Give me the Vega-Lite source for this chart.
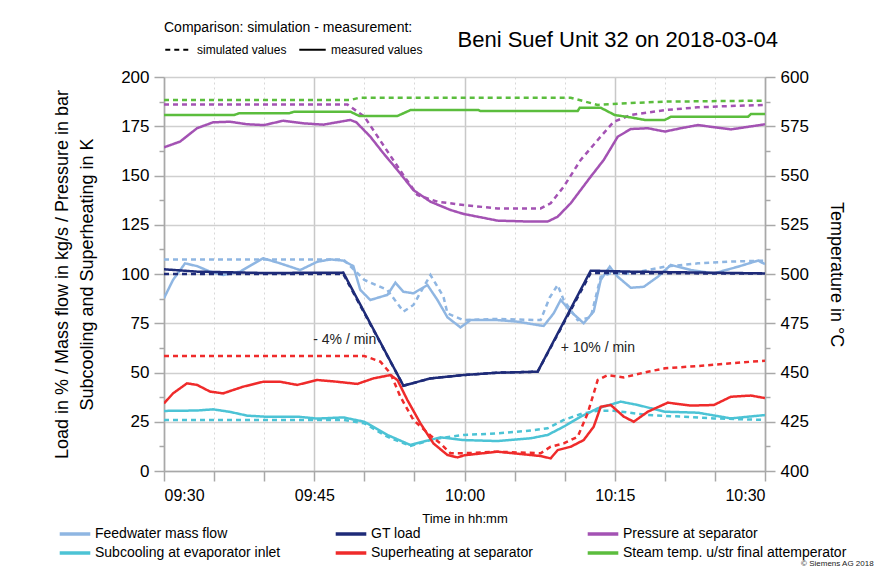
{
  "$schema": "https://vega.github.io/schema/vega-lite/v6.json",
  "width": 601,
  "height": 394,
  "autosize": {"type": "none"},
  "padding": {"left": 164, "top": 77, "right": 113, "bottom": 96},
  "background": "white",
  "config": {
    "font": "Liberation Sans",
    "view": {"stroke": null},
    "axis": {"labelColor": "black", "titleColor": "black", "titleFontWeight": "normal", "domainColor": "#a8a8a8", "tickColor": "#a8a8a8", "domainWidth": 1.5, "tickWidth": 1.5},
    "legend": {"labelColor": "black", "titleColor": "black", "titleFontWeight": "normal"}
  },
  "title": {"text": "Beni Suef Unit 32 on 2018-03-04", "anchor": "end", "frame": "group", "fontSize": 22, "fontWeight": "normal", "color": "black", "dx": 13, "offset": 0, "dy": 31},
  "datasets": {
    "main": [
      {"s":"Feedwater mass flow","k":"simulated values","t":0,"v":107.4},{"s":"Feedwater mass flow","k":"simulated values","t":17.9,"v":107.4},{"s":"Feedwater mass flow","k":"simulated values","t":20,"v":97},{"s":"Feedwater mass flow","k":"simulated values","t":22.3,"v":91.9},{"s":"Feedwater mass flow","k":"simulated values","t":23.9,"v":80.9},{"s":"Feedwater mass flow","k":"simulated values","t":24.9,"v":84.3},{"s":"Feedwater mass flow","k":"simulated values","t":26.6,"v":99.5},{"s":"Feedwater mass flow","k":"simulated values","t":27.9,"v":88.5},{"s":"Feedwater mass flow","k":"simulated values","t":28.3,"v":80},{"s":"Feedwater mass flow","k":"simulated values","t":29.9,"v":76.6},{"s":"Feedwater mass flow","k":"simulated values","t":33.3,"v":77.2},{"s":"Feedwater mass flow","k":"simulated values","t":37.6,"v":76.6},{"s":"Feedwater mass flow","k":"simulated values","t":38.5,"v":88},{"s":"Feedwater mass flow","k":"simulated values","t":39.3,"v":94.4},{"s":"Feedwater mass flow","k":"simulated values","t":39.9,"v":86.8},{"s":"Feedwater mass flow","k":"simulated values","t":41.3,"v":76.6},{"s":"Feedwater mass flow","k":"simulated values","t":42.6,"v":78},{"s":"Feedwater mass flow","k":"simulated values","t":43.6,"v":98.6},{"s":"Feedwater mass flow","k":"simulated values","t":44.6,"v":100.3},{"s":"Feedwater mass flow","k":"simulated values","t":46.6,"v":100.3},{"s":"Feedwater mass flow","k":"simulated values","t":50,"v":103.7},{"s":"Feedwater mass flow","k":"simulated values","t":53.3,"v":105.4},{"s":"Feedwater mass flow","k":"simulated values","t":56.6,"v":106.3},{"s":"Feedwater mass flow","k":"simulated values","t":60,"v":106.8},
      {"s":"Feedwater mass flow","k":"measured values","t":0,"v":87.7},{"s":"Feedwater mass flow","k":"measured values","t":0.9,"v":97},{"s":"Feedwater mass flow","k":"measured values","t":2.1,"v":105.4},{"s":"Feedwater mass flow","k":"measured values","t":3.3,"v":104},{"s":"Feedwater mass flow","k":"measured values","t":4.6,"v":101.2},{"s":"Feedwater mass flow","k":"measured values","t":5.9,"v":99.5},{"s":"Feedwater mass flow","k":"measured values","t":7.6,"v":101.2},{"s":"Feedwater mass flow","k":"measured values","t":9.9,"v":108},{"s":"Feedwater mass flow","k":"measured values","t":11.6,"v":105.4},{"s":"Feedwater mass flow","k":"measured values","t":13.6,"v":102},{"s":"Feedwater mass flow","k":"measured values","t":15.3,"v":106.2},{"s":"Feedwater mass flow","k":"measured values","t":16.6,"v":107.4},{"s":"Feedwater mass flow","k":"measured values","t":17.9,"v":106.8},{"s":"Feedwater mass flow","k":"measured values","t":18.9,"v":104},{"s":"Feedwater mass flow","k":"measured values","t":19.6,"v":91.9},{"s":"Feedwater mass flow","k":"measured values","t":20.6,"v":86.8},{"s":"Feedwater mass flow","k":"measured values","t":22.3,"v":89.4},{"s":"Feedwater mass flow","k":"measured values","t":23.1,"v":95.6},{"s":"Feedwater mass flow","k":"measured values","t":23.9,"v":91},{"s":"Feedwater mass flow","k":"measured values","t":24.9,"v":90.2},{"s":"Feedwater mass flow","k":"measured values","t":26.3,"v":94.4},{"s":"Feedwater mass flow","k":"measured values","t":27.3,"v":86.8},{"s":"Feedwater mass flow","k":"measured values","t":28.3,"v":78},{"s":"Feedwater mass flow","k":"measured values","t":29.6,"v":72.9},{"s":"Feedwater mass flow","k":"measured values","t":30.6,"v":76.6},{"s":"Feedwater mass flow","k":"measured values","t":33.3,"v":76.6},{"s":"Feedwater mass flow","k":"measured values","t":35.3,"v":75.8},{"s":"Feedwater mass flow","k":"measured values","t":37.9,"v":73.6},{"s":"Feedwater mass flow","k":"measured values","t":38.9,"v":80},{"s":"Feedwater mass flow","k":"measured values","t":39.6,"v":86.8},{"s":"Feedwater mass flow","k":"measured values","t":40.6,"v":81},{"s":"Feedwater mass flow","k":"measured values","t":41.9,"v":75},{"s":"Feedwater mass flow","k":"measured values","t":42.9,"v":81},{"s":"Feedwater mass flow","k":"measured values","t":43.6,"v":97},{"s":"Feedwater mass flow","k":"measured values","t":44.5,"v":103.7},{"s":"Feedwater mass flow","k":"measured values","t":45.3,"v":98.6},{"s":"Feedwater mass flow","k":"measured values","t":46.6,"v":93},{"s":"Feedwater mass flow","k":"measured values","t":47.9,"v":93.5},{"s":"Feedwater mass flow","k":"measured values","t":49.3,"v":98.6},{"s":"Feedwater mass flow","k":"measured values","t":50.6,"v":104.6},{"s":"Feedwater mass flow","k":"measured values","t":52.6,"v":102},{"s":"Feedwater mass flow","k":"measured values","t":54.9,"v":100.3},{"s":"Feedwater mass flow","k":"measured values","t":57.3,"v":103.7},{"s":"Feedwater mass flow","k":"measured values","t":59.3,"v":106.8},{"s":"Feedwater mass flow","k":"measured values","t":60,"v":105},
      {"s":"GT load","k":"simulated values","t":0,"v":100},{"s":"GT load","k":"simulated values","t":17.9,"v":100},{"s":"GT load","k":"simulated values","t":23.9,"v":43.3},{"s":"GT load","k":"simulated values","t":26.6,"v":47},{"s":"GT load","k":"simulated values","t":29.9,"v":48.7},{"s":"GT load","k":"simulated values","t":33.3,"v":49.9},{"s":"GT load","k":"simulated values","t":37.3,"v":50.4},{"s":"GT load","k":"simulated values","t":42.6,"v":100.5},{"s":"GT load","k":"simulated values","t":60,"v":100.2},
      {"s":"GT load","k":"measured values","t":0,"v":102.4},{"s":"GT load","k":"measured values","t":3.3,"v":101.2},{"s":"GT load","k":"measured values","t":10,"v":100.5},{"s":"GT load","k":"measured values","t":17.9,"v":100.7},{"s":"GT load","k":"measured values","t":23.9,"v":43.3},{"s":"GT load","k":"measured values","t":26.6,"v":47},{"s":"GT load","k":"measured values","t":29.9,"v":48.7},{"s":"GT load","k":"measured values","t":33.3,"v":49.9},{"s":"GT load","k":"measured values","t":37.3,"v":50.4},{"s":"GT load","k":"measured values","t":42.6,"v":101.7},{"s":"GT load","k":"measured values","t":46.6,"v":101.2},{"s":"GT load","k":"measured values","t":60,"v":100.3},
      {"s":"Pressure at separator","k":"simulated values","t":0,"v":186.1},{"s":"Pressure at separator","k":"simulated values","t":18.3,"v":186.1},{"s":"Pressure at separator","k":"simulated values","t":20,"v":179.9},{"s":"Pressure at separator","k":"simulated values","t":22,"v":164.6},{"s":"Pressure at separator","k":"simulated values","t":24,"v":149.4},{"s":"Pressure at separator","k":"simulated values","t":25.3,"v":140.1},{"s":"Pressure at separator","k":"simulated values","t":27.3,"v":136.7},{"s":"Pressure at separator","k":"simulated values","t":29.9,"v":135},{"s":"Pressure at separator","k":"simulated values","t":33.3,"v":133.3},{"s":"Pressure at separator","k":"simulated values","t":37.6,"v":133.3},{"s":"Pressure at separator","k":"simulated values","t":38.6,"v":135.9},{"s":"Pressure at separator","k":"simulated values","t":39.9,"v":144.3},{"s":"Pressure at separator","k":"simulated values","t":41.6,"v":157.9},{"s":"Pressure at separator","k":"simulated values","t":43.3,"v":168},{"s":"Pressure at separator","k":"simulated values","t":44.9,"v":177.3},{"s":"Pressure at separator","k":"simulated values","t":46.6,"v":180.7},{"s":"Pressure at separator","k":"simulated values","t":50,"v":183.2},{"s":"Pressure at separator","k":"simulated values","t":53.3,"v":184.6},{"s":"Pressure at separator","k":"simulated values","t":56.6,"v":185.3},{"s":"Pressure at separator","k":"simulated values","t":60,"v":185.8},
      {"s":"Pressure at separator","k":"measured values","t":0,"v":164.3},{"s":"Pressure at separator","k":"measured values","t":1.6,"v":167.2},{"s":"Pressure at separator","k":"measured values","t":3.3,"v":174},{"s":"Pressure at separator","k":"measured values","t":4.9,"v":177},{"s":"Pressure at separator","k":"measured values","t":6.6,"v":177.3},{"s":"Pressure at separator","k":"measured values","t":8.3,"v":176},{"s":"Pressure at separator","k":"measured values","t":10,"v":175.6},{"s":"Pressure at separator","k":"measured values","t":11.9,"v":177.8},{"s":"Pressure at separator","k":"measured values","t":13.9,"v":176.5},{"s":"Pressure at separator","k":"measured values","t":15.9,"v":175.8},{"s":"Pressure at separator","k":"measured values","t":18.6,"v":178.2},{"s":"Pressure at separator","k":"measured values","t":19.2,"v":177},{"s":"Pressure at separator","k":"measured values","t":20.6,"v":169.7},{"s":"Pressure at separator","k":"measured values","t":21.9,"v":161.3},{"s":"Pressure at separator","k":"measured values","t":23.3,"v":152.8},{"s":"Pressure at separator","k":"measured values","t":24.9,"v":142.6},{"s":"Pressure at separator","k":"measured values","t":26.6,"v":136.7},{"s":"Pressure at separator","k":"measured values","t":28.6,"v":132.5},{"s":"Pressure at separator","k":"measured values","t":29.9,"v":130.5},{"s":"Pressure at separator","k":"measured values","t":33.3,"v":127.1},{"s":"Pressure at separator","k":"measured values","t":36.6,"v":126.6},{"s":"Pressure at separator","k":"measured values","t":38.3,"v":126.6},{"s":"Pressure at separator","k":"measured values","t":39.3,"v":129.1},{"s":"Pressure at separator","k":"measured values","t":40.6,"v":135.9},{"s":"Pressure at separator","k":"measured values","t":42.6,"v":149.4},{"s":"Pressure at separator","k":"measured values","t":43.9,"v":157.9},{"s":"Pressure at separator","k":"measured values","t":45.3,"v":169.7},{"s":"Pressure at separator","k":"measured values","t":46.6,"v":173.6},{"s":"Pressure at separator","k":"measured values","t":48.3,"v":174},{"s":"Pressure at separator","k":"measured values","t":50,"v":172.3},{"s":"Pressure at separator","k":"measured values","t":51.6,"v":174},{"s":"Pressure at separator","k":"measured values","t":53.3,"v":175.6},{"s":"Pressure at separator","k":"measured values","t":56.6,"v":173.4},{"s":"Pressure at separator","k":"measured values","t":60,"v":176},
      {"s":"Subcooling at evaporator inlet","k":"simulated values","t":0,"v":25.9},{"s":"Subcooling at evaporator inlet","k":"simulated values","t":17.9,"v":25.9},{"s":"Subcooling at evaporator inlet","k":"simulated values","t":20,"v":24.2},{"s":"Subcooling at evaporator inlet","k":"simulated values","t":22.3,"v":17.4},{"s":"Subcooling at evaporator inlet","k":"simulated values","t":24.6,"v":12.7},{"s":"Subcooling at evaporator inlet","k":"simulated values","t":26.6,"v":15.7},{"s":"Subcooling at evaporator inlet","k":"simulated values","t":27.5,"v":16.6},{"s":"Subcooling at evaporator inlet","k":"simulated values","t":29.9,"v":18.3},{"s":"Subcooling at evaporator inlet","k":"simulated values","t":33.3,"v":19.1},{"s":"Subcooling at evaporator inlet","k":"simulated values","t":36.6,"v":20.5},{"s":"Subcooling at evaporator inlet","k":"simulated values","t":38.3,"v":21.7},{"s":"Subcooling at evaporator inlet","k":"simulated values","t":39.9,"v":25.9},{"s":"Subcooling at evaporator inlet","k":"simulated values","t":41.6,"v":28.9},{"s":"Subcooling at evaporator inlet","k":"simulated values","t":43.3,"v":30.6},{"s":"Subcooling at evaporator inlet","k":"simulated values","t":44.9,"v":30.6},{"s":"Subcooling at evaporator inlet","k":"simulated values","t":48.3,"v":28.4},{"s":"Subcooling at evaporator inlet","k":"simulated values","t":51.6,"v":27.6},{"s":"Subcooling at evaporator inlet","k":"simulated values","t":54.9,"v":26.7},{"s":"Subcooling at evaporator inlet","k":"simulated values","t":60,"v":25.9},
      {"s":"Subcooling at evaporator inlet","k":"measured values","t":0,"v":30.5},{"s":"Subcooling at evaporator inlet","k":"measured values","t":3.3,"v":30.7},{"s":"Subcooling at evaporator inlet","k":"measured values","t":4.9,"v":31.3},{"s":"Subcooling at evaporator inlet","k":"measured values","t":6.6,"v":30},{"s":"Subcooling at evaporator inlet","k":"measured values","t":8.3,"v":28.1},{"s":"Subcooling at evaporator inlet","k":"measured values","t":10,"v":27.6},{"s":"Subcooling at evaporator inlet","k":"measured values","t":13.3,"v":27.6},{"s":"Subcooling at evaporator inlet","k":"measured values","t":15.3,"v":26.6},{"s":"Subcooling at evaporator inlet","k":"measured values","t":17.9,"v":27.2},{"s":"Subcooling at evaporator inlet","k":"measured values","t":20,"v":25},{"s":"Subcooling at evaporator inlet","k":"measured values","t":22.3,"v":18.3},{"s":"Subcooling at evaporator inlet","k":"measured values","t":24.6,"v":13.2},{"s":"Subcooling at evaporator inlet","k":"measured values","t":25.9,"v":14.9},{"s":"Subcooling at evaporator inlet","k":"measured values","t":27.6,"v":17.1},{"s":"Subcooling at evaporator inlet","k":"measured values","t":29.9,"v":15.7},{"s":"Subcooling at evaporator inlet","k":"measured values","t":33.3,"v":15.2},{"s":"Subcooling at evaporator inlet","k":"measured values","t":36.6,"v":16.6},{"s":"Subcooling at evaporator inlet","k":"measured values","t":38.3,"v":18.3},{"s":"Subcooling at evaporator inlet","k":"measured values","t":39.9,"v":22.5},{"s":"Subcooling at evaporator inlet","k":"measured values","t":41.6,"v":27.6},{"s":"Subcooling at evaporator inlet","k":"measured values","t":43.3,"v":31.8},{"s":"Subcooling at evaporator inlet","k":"measured values","t":45.6,"v":35.2},{"s":"Subcooling at evaporator inlet","k":"measured values","t":47.3,"v":33.5},{"s":"Subcooling at evaporator inlet","k":"measured values","t":50,"v":30.1},{"s":"Subcooling at evaporator inlet","k":"measured values","t":53.3,"v":29.6},{"s":"Subcooling at evaporator inlet","k":"measured values","t":56.6,"v":26.7},{"s":"Subcooling at evaporator inlet","k":"measured values","t":60,"v":28.4},
      {"s":"Superheating at separator","k":"simulated values","t":0,"v":58.4},{"s":"Superheating at separator","k":"simulated values","t":20,"v":58.4},{"s":"Superheating at separator","k":"simulated values","t":21.6,"v":55.5},{"s":"Superheating at separator","k":"simulated values","t":22.6,"v":49.6},{"s":"Superheating at separator","k":"simulated values","t":23.6,"v":37.7},{"s":"Superheating at separator","k":"simulated values","t":24.9,"v":25.9},{"s":"Superheating at separator","k":"simulated values","t":26.6,"v":18},{"s":"Superheating at separator","k":"simulated values","t":27.6,"v":14},{"s":"Superheating at separator","k":"simulated values","t":28.6,"v":9},{"s":"Superheating at separator","k":"simulated values","t":29.9,"v":9},{"s":"Superheating at separator","k":"simulated values","t":33.3,"v":9.8},{"s":"Superheating at separator","k":"simulated values","t":37.6,"v":9},{"s":"Superheating at separator","k":"simulated values","t":38.6,"v":12.3},{"s":"Superheating at separator","k":"simulated values","t":39.9,"v":14},{"s":"Superheating at separator","k":"simulated values","t":41.3,"v":17.4},{"s":"Superheating at separator","k":"simulated values","t":42.3,"v":29.3},{"s":"Superheating at separator","k":"simulated values","t":43.3,"v":46.2},{"s":"Superheating at separator","k":"simulated values","t":44.3,"v":48.7},{"s":"Superheating at separator","k":"simulated values","t":45.9,"v":47.5},{"s":"Superheating at separator","k":"simulated values","t":48.3,"v":50.4},{"s":"Superheating at separator","k":"simulated values","t":50,"v":52.1},{"s":"Superheating at separator","k":"simulated values","t":53.3,"v":53.3},{"s":"Superheating at separator","k":"simulated values","t":56.6,"v":54.7},{"s":"Superheating at separator","k":"simulated values","t":60,"v":56},
      {"s":"Superheating at separator","k":"measured values","t":0,"v":34.3},{"s":"Superheating at separator","k":"measured values","t":0.9,"v":39.4},{"s":"Superheating at separator","k":"measured values","t":2.3,"v":44.5},{"s":"Superheating at separator","k":"measured values","t":3.3,"v":43.7},{"s":"Superheating at separator","k":"measured values","t":4.6,"v":40.3},{"s":"Superheating at separator","k":"measured values","t":5.9,"v":39.4},{"s":"Superheating at separator","k":"measured values","t":7.9,"v":42.8},{"s":"Superheating at separator","k":"measured values","t":9.9,"v":45.3},{"s":"Superheating at separator","k":"measured values","t":11.6,"v":45.3},{"s":"Superheating at separator","k":"measured values","t":13.3,"v":43.7},{"s":"Superheating at separator","k":"measured values","t":15.3,"v":46.2},{"s":"Superheating at separator","k":"measured values","t":17.3,"v":45.3},{"s":"Superheating at separator","k":"measured values","t":19.3,"v":44.2},{"s":"Superheating at separator","k":"measured values","t":20.9,"v":47},{"s":"Superheating at separator","k":"measured values","t":22.6,"v":48.7},{"s":"Superheating at separator","k":"measured values","t":23.3,"v":46.2},{"s":"Superheating at separator","k":"measured values","t":24.3,"v":36},{"s":"Superheating at separator","k":"measured values","t":25.6,"v":24.2},{"s":"Superheating at separator","k":"measured values","t":26.9,"v":14},{"s":"Superheating at separator","k":"measured values","t":28.3,"v":8.1},{"s":"Superheating at separator","k":"measured values","t":29.3,"v":6.9},{"s":"Superheating at separator","k":"measured values","t":30,"v":8},{"s":"Superheating at separator","k":"measured values","t":33.3,"v":9.8},{"s":"Superheating at separator","k":"measured values","t":37.6,"v":7.6},{"s":"Superheating at separator","k":"measured values","t":38.6,"v":6.4},{"s":"Superheating at separator","k":"measured values","t":39.3,"v":10.6},{"s":"Superheating at separator","k":"measured values","t":40.6,"v":12.3},{"s":"Superheating at separator","k":"measured values","t":41.9,"v":15.7},{"s":"Superheating at separator","k":"measured values","t":42.9,"v":22.5},{"s":"Superheating at separator","k":"measured values","t":43.6,"v":32.6},{"s":"Superheating at separator","k":"measured values","t":44.6,"v":33.5},{"s":"Superheating at separator","k":"measured values","t":45.9,"v":27.6},{"s":"Superheating at separator","k":"measured values","t":46.9,"v":25},{"s":"Superheating at separator","k":"measured values","t":48.3,"v":30.1},{"s":"Superheating at separator","k":"measured values","t":50.3,"v":34.7},{"s":"Superheating at separator","k":"measured values","t":52.6,"v":33.2},{"s":"Superheating at separator","k":"measured values","t":54.9,"v":33.5},{"s":"Superheating at separator","k":"measured values","t":56.6,"v":37.7},{"s":"Superheating at separator","k":"measured values","t":58.6,"v":38.3},{"s":"Superheating at separator","k":"measured values","t":60,"v":37}
    ],
    "temp": [
      {"s":"Steam temp. u/str final attemperator","k":"simulated values","t":0,"v":588.3},{"s":"Steam temp. u/str final attemperator","k":"simulated values","t":18.6,"v":588.3},{"s":"Steam temp. u/str final attemperator","k":"simulated values","t":19.5,"v":589.5},{"s":"Steam temp. u/str final attemperator","k":"simulated values","t":40.6,"v":589.5},{"s":"Steam temp. u/str final attemperator","k":"simulated values","t":43.3,"v":585.8},{"s":"Steam temp. u/str final attemperator","k":"simulated values","t":46.6,"v":586.8},{"s":"Steam temp. u/str final attemperator","k":"simulated values","t":50,"v":587.5},{"s":"Steam temp. u/str final attemperator","k":"simulated values","t":60,"v":588},
      {"s":"Steam temp. u/str final attemperator","k":"measured values","t":0,"v":580.7},{"s":"Steam temp. u/str final attemperator","k":"measured values","t":7,"v":580.7},{"s":"Steam temp. u/str final attemperator","k":"measured values","t":7.5,"v":581.6},{"s":"Steam temp. u/str final attemperator","k":"measured values","t":12.5,"v":581.6},{"s":"Steam temp. u/str final attemperator","k":"measured values","t":13,"v":582.4},{"s":"Steam temp. u/str final attemperator","k":"measured values","t":18.6,"v":582.4},{"s":"Steam temp. u/str final attemperator","k":"measured values","t":19.5,"v":580.2},{"s":"Steam temp. u/str final attemperator","k":"measured values","t":23.3,"v":580.2},{"s":"Steam temp. u/str final attemperator","k":"measured values","t":24.6,"v":583.2},{"s":"Steam temp. u/str final attemperator","k":"measured values","t":31.4,"v":583.2},{"s":"Steam temp. u/str final attemperator","k":"measured values","t":31.6,"v":582.7},{"s":"Steam temp. u/str final attemperator","k":"measured values","t":41.3,"v":582.7},{"s":"Steam temp. u/str final attemperator","k":"measured values","t":41.5,"v":584.4},{"s":"Steam temp. u/str final attemperator","k":"measured values","t":43.6,"v":584.4},{"s":"Steam temp. u/str final attemperator","k":"measured values","t":45,"v":580.7},{"s":"Steam temp. u/str final attemperator","k":"measured values","t":46.6,"v":579.5},{"s":"Steam temp. u/str final attemperator","k":"measured values","t":48,"v":578.2},{"s":"Steam temp. u/str final attemperator","k":"measured values","t":50,"v":578.2},{"s":"Steam temp. u/str final attemperator","k":"measured values","t":50.6,"v":579.8},{"s":"Steam temp. u/str final attemperator","k":"measured values","t":58.3,"v":579.8},{"s":"Steam temp. u/str final attemperator","k":"measured values","t":58.6,"v":581.2},{"s":"Steam temp. u/str final attemperator","k":"measured values","t":60,"v":581.2}
    ],
    "notes": [
      {"t":14.9,"v":66.5,"label":"- 4% / min","size":"n"},
      {"t":39.6,"v":62.4,"label":"+ 10% / min","size":"n"},
      {"t":63.6,"v":-47.3,"label":"© Siemens AG 2018","size":"c"}
    ]
  },
  "encoding": {
    "x": {
      "field": "t", "type": "quantitative",
      "scale": {"domain": [0, 60], "nice": false, "zero": false},
      "axis": {
        "values": [0,5,10,15,20,25,30,35,40,45,50,55,60],
        "labelExpr": "['09:30','','','09:45','','','10:00','','','10:15','','','10:30'][round(datum.value/5)]",
        "labelFontSize": 16, "labelPadding": 6, "tickSize": 10,
        "grid": true,
        "gridColor": {"condition": {"test": "datum.value % 15 != 0", "value": "#d8d8d8"}, "value": "#c8c8c8"},
        "gridDash": {"condition": {"test": "datum.value % 15 != 0", "value": [2, 3]}, "value": []},
        "gridWidth": {"condition": {"test": "datum.value % 15 != 0", "value": 1}, "value": 1.5},
        "title": "Time in hh:mm", "titleFontSize": 13, "titlePadding": 9
      }
    }
  },
  "layer": [
    {
      "encoding": {
        "y": {
          "field": "v", "type": "quantitative",
          "scale": {"domain": [0, 200], "nice": false},
          "axis": {
            "orient": "left",
            "values": [0,12.5,25,37.5,50,62.5,75,87.5,100,112.5,125,137.5,150,162.5,175,187.5,200],
            "labelExpr": "datum.value % 25 == 0 ? datum.label : ''",
            "tickSize": {"condition": {"test": "datum.value % 25 != 0", "value": 5}, "value": 10},
            "gridOpacity": {"condition": {"test": "datum.value % 25 != 0", "value": 0}, "value": 1},
            "grid": true, "gridColor": "#cfcfcf", "gridWidth": 1.5,
            "labelFontSize": 17, "labelPadding": 5,
            "title": ["Load in % / Mass flow in kg/s  /  Pressure in bar", "Subcooling and Superheating in K"],
            "titleFontSize": 18, "titleLineHeight": 25, "titlePadding": 24
          }
        }
      },
      "layer": [
        {
          "data": {"name": "main"},
          "mark": {"type": "line", "strokeWidth": 2.5, "clip": true},
          "encoding": {
            "color": {
              "field": "s", "type": "nominal",
              "scale": {
                "domain": ["Feedwater mass flow", "GT load", "Pressure at separator", "Subcooling at evaporator inlet", "Superheating at separator", "Steam temp. u/str final attemperator"],
                "range": ["#8fb6e2", "#1e2b78", "#a352b3", "#4cc3d5", "#ef2b2b", "#5bbd3d"]
              },
              "legend": {
                "orient": "none", "legendX": -100, "legendY": 446,
                "direction": "horizontal", "columns": 3, "columnPadding": 47, "rowPadding": 1,
                "title": null, "symbolType": "M-1.7,0H1.7", "symbolStrokeWidth": 3.5, "symbolSize": 324,
                "labelFontSize": 14, "labelOffset": 9, "labelLimit": 300
              }
            },
            "strokeDash": {
              "field": "k", "type": "nominal",
              "scale": {"domain": ["simulated values", "measured values"], "range": [[5, 4], [1, 0]]},
              "legend": {
                "orient": "none", "legendX": 0, "legendY": -56,
                "direction": "horizontal", "title": "Comparison: simulation - measurement:",
                "titleFontSize": 14, "titlePadding": 0, "titleLimit": 400, "labelFontSize": 12, "columnPadding": 8,
                "symbolType": "stroke", "symbolStrokeColor": "black", "symbolStrokeWidth": 2, "symbolSize": 700
              }
            },
            "detail": {"field": "k"}
          }
        },
        {
          "data": {"name": "notes"},
          "mark": {"type": "text", "align": "left", "baseline": "middle", "color": "#222222", "clip": false},
          "encoding": {
            "text": {"field": "label"},
            "size": {"field": "size", "type": "nominal", "scale": {"domain": ["n", "c"], "range": [14, 8]}, "legend": null}
          }
        }
      ]
    },
    {
      "data": {"name": "temp"},
      "mark": {"type": "line", "strokeWidth": 2.5, "clip": true},
      "encoding": {
        "y": {
          "field": "v", "type": "quantitative",
          "scale": {"domain": [400, 600], "nice": false, "zero": false},
          "axis": {
            "orient": "right",
            "values": [400,412.5,425,437.5,450,462.5,475,487.5,500,512.5,525,537.5,550,562.5,575,587.5,600],
            "labelExpr": "datum.value % 25 == 0 ? datum.label : ''",
            "tickSize": {"condition": {"test": "datum.value % 25 != 0", "value": 5}, "value": 10},
            "grid": false,
            "labelFontSize": 17, "labelPadding": 5,
            "title": "Temperature in °C", "titleFontSize": 18, "titlePadding": 18
          }
        },
        "color": {"field": "s", "type": "nominal"},
        "strokeDash": {"field": "k", "type": "nominal"},
        "detail": {"field": "k"}
      }
    }
  ],
  "resolve": {"scale": {"y": "independent"}}
}
